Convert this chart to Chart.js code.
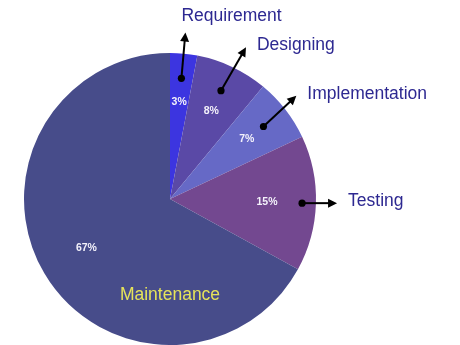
<!DOCTYPE html>
<html>
<head>
<meta charset="utf-8">
<script src="https://cdn.jsdelivr.net/npm/chart.js@4"></script>
<style>
  html, body { margin: 0; padding: 0; background: #fff; }
  #wrap { width: 460px; height: 345px; }
</style>
</head>
<body>
<div id="wrap"><canvas id="sdlcChart"></canvas></div>
<script>
const phases = ["Requirement", "Designing", "Implementation", "Testing", "Maintenance"];
const shares = [3, 8, 7, 15, 67];
const sliceColors = ["#3c35e0", "#5a49a6", "#6669c6", "#734890", "#474c8a"];

// callout layout per slice: dot radius (fraction of outer radius), arrow direction (deg), arrow length
const calloutDot = [0.83, 0.82, 0.81, 0.905, null];
const calloutDir = [-85, -60, -43, 0, 0];
const calloutLen = [46, 50, 45, 35, 0];

const labelFont = '17.5px "Liberation Sans", Arial, sans-serif';
const pctFont = 'bold 10.5px "Liberation Sans", Arial, sans-serif';

const calloutPlugin = {
  id: "callouts",
  afterDatasetsDraw(chart) {
    const ctx = chart.ctx;
    const arcs = chart.getDatasetMeta(0).data;
    ctx.save();
    arcs.forEach((arc, i) => {
      const { x, y, startAngle, endAngle, outerRadius } = arc.getProps(
        ["x", "y", "startAngle", "endAngle", "outerRadius"], true);
      const mid = (startAngle + endAngle) / 2;

      // percentage inside the slice
      const pr = outerRadius * 0.665;
      ctx.fillStyle = "#f4f2fb";
      ctx.font = pctFont;
      ctx.textAlign = "center";
      ctx.textBaseline = "middle";
      ctx.fillText(shares[i] + "%", x + Math.cos(mid) * pr, y + Math.sin(mid) * pr);

      if (calloutDot[i] === null) {
        // big slice gets its name written inside
        ctx.fillStyle = "#e6e35a";
        ctx.font = labelFont;
        ctx.fillText(phases[i], x, y + outerRadius * 0.66);
        return;
      }

      const dir = calloutDir[i] * Math.PI / 180;
      const dr = outerRadius * calloutDot[i];
      const dx = x + Math.cos(mid) * dr;
      const dy = y + Math.sin(mid) * dr;
      const hx = dx + Math.cos(dir) * calloutLen[i];
      const hy = dy + Math.sin(dir) * calloutLen[i];

      ctx.strokeStyle = "#000";
      ctx.fillStyle = "#000";
      ctx.lineWidth = 2;
      ctx.beginPath();
      ctx.arc(dx, dy, 3.6, 0, Math.PI * 2);
      ctx.fill();
      ctx.beginPath();
      ctx.moveTo(dx, dy);
      ctx.lineTo(hx - Math.cos(dir) * 5, hy - Math.sin(dir) * 5);
      ctx.stroke();
      // arrow head
      const hl = 9, hw = 4.5;
      const bx = hx - Math.cos(dir) * hl, by = hy - Math.sin(dir) * hl;
      ctx.beginPath();
      ctx.moveTo(hx, hy);
      ctx.lineTo(bx - Math.sin(dir) * hw, by + Math.cos(dir) * hw);
      ctx.lineTo(bx + Math.sin(dir) * hw, by - Math.cos(dir) * hw);
      ctx.closePath();
      ctx.fill();

      // phase name next to the arrow
      ctx.fillStyle = "#2d2891";
      ctx.font = labelFont;
      ctx.textAlign = "left";
      ctx.textBaseline = "middle";
      if (Math.sin(dir) < -0.95) {
        ctx.fillText(phases[i], hx - 4, hy - 16);
      } else {
        ctx.fillText(phases[i], hx + 11, hy - 2);
      }
    });
    ctx.restore();
  }
};

new Chart(document.getElementById("sdlcChart").getContext("2d"), {
  type: "pie",
  data: {
    labels: phases,
    datasets: [{
      data: shares,
      backgroundColor: sliceColors,
      borderWidth: 0
    }]
  },
  options: {
    responsive: true,
    maintainAspectRatio: false,
    animation: false,
    layout: { padding: { left: 24, right: 144, top: 53, bottom: 0 } },
    plugins: {
      legend: { display: false },
      tooltip: { enabled: false }
    }
  },
  plugins: [calloutPlugin]
});
</script>
</body>
</html>
